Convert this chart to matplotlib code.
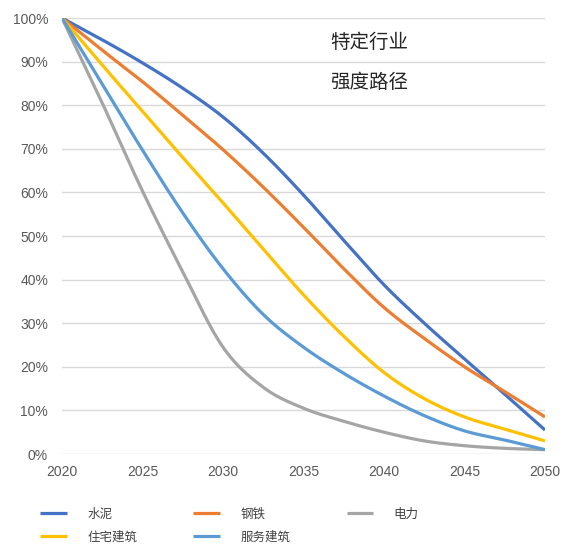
import numpy as np
import matplotlib
matplotlib.use("Agg")
import matplotlib.pyplot as plt
from matplotlib.ticker import PercentFormatter

plt.rcParams['font.family'] = ['Liberation Sans', 'Noto Sans CJK SC', 'DejaVu Sans']

years = [2020, 2022.5, 2025, 2027.5, 2030, 2032.5, 2035,
         2037.5, 2040, 2042.5, 2045, 2047.5, 2050]
tick_years = [2020, 2025, 2030, 2035, 2040, 2045, 2050]
cement = [100, 95.0, 89.7, 83.9, 77.3, 69.0, 59.4, 49.0, 38.8, 30.0, 21.8, 13.7, 5.5]
steel = [100, 92.6, 85.4, 77.7, 69.8, 61.2, 52.0, 42.5, 33.6, 26.5, 20.0, 14.3, 8.5]
power = [100, 80.5, 60.3, 41.8, 24.5, 15.3, 10.5, 7.5, 5.0, 3.0, 1.9, 1.3, 1.0]
residential = [100, 89.2, 78.6, 68.0, 57.6, 47.0, 36.5, 27.0, 18.7, 12.7, 8.5, 5.7, 3.0]
services = [100, 84.8, 69.7, 55.3, 42.5, 32.0, 24.5, 18.5, 13.3, 8.8, 5.3, 3.2, 1.0]

series = {
    "水泥": (cement, "#4472C4"),
    "住宅建筑": (residential, "#FFC000"),
    "钢铁": (steel, "#ED7D31"),
    "服务建筑": (services, "#5B9BD5"),
    "电力": (power, "#A5A5A5"),
}


def smooth(x, y, n=30):
    """Catmull-Rom curve through the points, like a spreadsheet 'smoothed line'."""
    x = np.asarray(x, float)
    y = np.asarray(y, float)
    px = np.concatenate([[2 * x[0] - x[1]], x, [2 * x[-1] - x[-2]]])
    py = np.concatenate([[2 * y[0] - y[1]], y, [2 * y[-1] - y[-2]]])
    xs, ys = [], []
    t = np.linspace(0, 1, n, endpoint=False)
    for i in range(1, len(px) - 2):
        for arr, out in ((px, xs), (py, ys)):
            p0, p1, p2, p3 = arr[i - 1], arr[i], arr[i + 1], arr[i + 2]
            out.extend(0.5 * ((2 * p1) + (-p0 + p2) * t
                              + (2 * p0 - 5 * p1 + 4 * p2 - p3) * t ** 2
                              + (-p0 + 3 * p1 - 3 * p2 + p3) * t ** 3))
    xs.append(x[-1])
    ys.append(y[-1])
    return np.array(xs), np.array(ys)


fig = plt.figure(figsize=(5.66, 5.44), dpi=100)
ax = fig.add_axes([62 / 566, 90 / 544, 483 / 566, 436 / 544])

lines = {}
for label in ["水泥", "钢铁", "电力", "住宅建筑", "服务建筑"]:
    vals, color = series[label]
    sx, sy = smooth(years, vals)
    lines[label], = ax.plot(sx, sy, color=color, lw=2.3, label=label,
                            solid_capstyle='butt')

ax.set_xlim(2020, 2050)
ax.set_ylim(0, 100)
ax.set_xticks(tick_years)
ax.set_yticks(np.arange(0, 101, 10))
ax.yaxis.set_major_formatter(PercentFormatter(decimals=0))
ax.tick_params(length=0, labelsize=10, colors="#595959")
ax.tick_params(axis='y', pad=10)
ax.tick_params(axis='x', pad=8)
ax.grid(axis='y', color="#D9D9D9", lw=1)
ax.set_axisbelow(True)
for s in ax.spines.values():
    s.set_visible(False)

fig.text(330 / 566, 1 - 43 / 544, "特定行业", fontsize=14, color="#262626",
         va='center', ha='left')
fig.text(330 / 566, 1 - 83 / 544, "强度路径", fontsize=14, color="#262626",
         va='center', ha='left')

leg_order = ["水泥", "住宅建筑", "钢铁", "服务建筑", "电力"]
fig.legend([lines[k] for k in leg_order], leg_order, ncol=3,
           loc='upper left', bbox_to_anchor=(29 / 566, 1 - 497 / 544),
           frameon=False, fontsize=9, handlelength=2.15, handletextpad=1.6,
           columnspacing=4.5, labelspacing=0.85, labelcolor="#404040")

fig.savefig("out.png", dpi=100, facecolor="white")
